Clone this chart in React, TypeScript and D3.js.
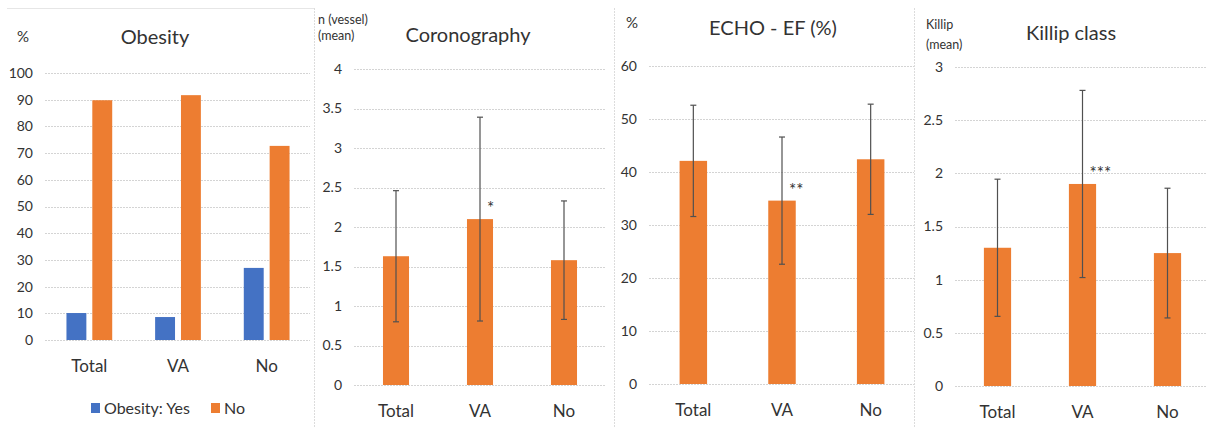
import { useEffect, useRef } from "react";
import * as d3 from "d3";

const categories = ["Total", "VA", "No"];

// Obesity (%)
const obesityYes = [10.1, 8.6, 27.0];
const obesityNo = [89.8, 91.7, 72.7];
const obesityTicks = [0, 10, 20, 30, 40, 50, 60, 70, 80, 90, 100];

// Coronography, n vessels (mean ± SD)
const coroMean = [1.63, 2.1, 1.58];
const coroSd = [0.83, 1.29, 0.75];
const coroTicks = [0, 0.5, 1, 1.5, 2, 2.5, 3, 3.5, 4];
const coroSig = ["", "*", ""];

// ECHO - EF (%)
const echoMean = [42.1, 34.6, 42.4];
const echoSd = [10.5, 12.0, 10.4];
const echoTicks = [0, 10, 20, 30, 40, 50, 60];
const echoSig = ["", "**", ""];

// Killip class (mean ± SD)
const killipMean = [1.3, 1.9, 1.25];
const killipSd = [0.645, 0.88, 0.61];
const killipTicks = [0, 0.5, 1, 1.5, 2, 2.5, 3];
const killipSig = ["", "***", ""];

const BLUE = "#4472c4";
const ORANGE = "#ed7d31";
const TEXT = "#333333";
const FONT = "Lato, 'Open Sans', sans-serif";

function drawFrame(g, x, y, ticks, gridLeft, gridRight) {
  g.append("g")
    .selectAll("line")
    .data(ticks)
    .join("line")
      .attr("x1", gridLeft)
      .attr("x2", gridRight)
      .attr("y1", d => Math.round(y(d)) + 0.5)
      .attr("y2", d => Math.round(y(d)) + 0.5)
      .attr("stroke", "#d4d4d4")
      .attr("stroke-dasharray", "2,1");

  const ya = g.append("g")
    .attr("transform", `translate(${gridLeft},0)`)
    .call(d3.axisLeft(y).tickValues(ticks).tickSize(0).tickPadding(12).tickFormat(d3.format("~g")));
  ya.select(".domain").remove();
  ya.attr("font-family", FONT).attr("font-size", 14);
  ya.selectAll("text").attr("fill", TEXT);

  const xa = g.append("g")
    .attr("transform", `translate(0,${y(0)})`)
    .call(d3.axisBottom(x).tickSize(0).tickPadding(20));
  xa.select(".domain").remove();
  xa.attr("font-family", FONT).attr("font-size", 17);
  xa.selectAll("text").attr("fill", TEXT);
}

function drawErrorPanel(svg, opts) {
  const { left, right, bottom, top, max, ticks, mean, sd, sig, pad, gridRight } = opts;
  const g = svg.append("g");
  const x = d3.scaleBand().domain(categories).range([left, right]).paddingInner(pad).paddingOuter(pad / 2);
  const y = d3.scaleLinear().domain([0, max]).range([bottom, top]);
  drawFrame(g, x, y, ticks, left, gridRight);

  g.append("g")
    .selectAll("rect")
    .data(categories)
    .join("rect")
      .attr("x", d => x(d))
      .attr("y", (d, i) => y(mean[i]))
      .attr("width", x.bandwidth())
      .attr("height", (d, i) => y(0) - y(mean[i]))
      .attr("fill", ORANGE);

  const eb = g.append("g").attr("stroke", "#505050").attr("stroke-width", 1.2);
  categories.forEach((c, i) => {
    const cx = x(c) + x.bandwidth() / 2;
    const y1 = y(mean[i] - sd[i]);
    const y2 = y(mean[i] + sd[i]);
    eb.append("line").attr("x1", cx).attr("x2", cx).attr("y1", y1).attr("y2", y2);
    eb.append("line").attr("x1", cx - 3).attr("x2", cx + 3).attr("y1", y1).attr("y2", y1);
    eb.append("line").attr("x1", cx - 3).attr("x2", cx + 3).attr("y1", y2).attr("y2", y2);
  });

  g.append("g")
    .selectAll("text")
    .data(categories)
    .join("text")
      .attr("x", d => x(d) + x.bandwidth() / 2 + 7)
      .attr("y", (d, i) => y(mean[i]) - 5)
      .attr("font-family", FONT)
      .attr("font-size", 17)
      .attr("fill", TEXT)
      .text((d, i) => sig[i]);
  return g;
}

function label(svg, x, y, text, size, anchor = "middle") {
  svg.append("text")
    .attr("x", x)
    .attr("y", y)
    .attr("dy", "0.35em")
    .attr("text-anchor", anchor)
    .attr("font-family", FONT)
    .attr("font-size", size)
    .attr("fill", TEXT)
    .text(text);
}

export default function App() {
  const ref = useRef(null);

  useEffect(() => {
    const svg = d3.select(ref.current);
    svg.selectAll("*").remove();

    // panel frames
    svg.append("line").attr("x1", 7).attr("x2", 314).attr("y1", 8.5).attr("y2", 8.5).attr("stroke", "#e6e6e6");
    [314.5, 614.5, 914.5].forEach(px => {
      svg.append("line").attr("x1", px).attr("x2", px).attr("y1", 8).attr("y2", 427)
        .attr("stroke", "#dcdcdc").attr("stroke-dasharray", "2,1");
    });

    // Panel 1: Obesity
    const g1 = svg.append("g");
    const x1 = d3.scaleBand().domain(categories).range([45, 311]);
    const xs = d3.scaleBand().domain(["yes", "no"]).range([0, x1.bandwidth()]).paddingInner(0.23).paddingOuter(0.83);
    const y1 = d3.scaleLinear().domain([0, 100]).range([340, 73]);
    drawFrame(g1, x1, y1, obesityTicks, 45, 310);
    const series = [
      { key: "yes", values: obesityYes, color: BLUE },
      { key: "no", values: obesityNo, color: ORANGE },
    ];
    series.forEach(s => {
      g1.append("g")
        .selectAll("rect")
        .data(categories)
        .join("rect")
          .attr("x", d => x1(d) + xs(s.key))
          .attr("y", (d, i) => y1(s.values[i]))
          .attr("width", xs.bandwidth())
          .attr("height", (d, i) => y1(0) - y1(s.values[i]))
          .attr("fill", s.color);
    });
    label(svg, 155, 37, "Obesity", 20);
    label(svg, 23, 37, "%", 15);
    // legend
    svg.append("rect").attr("x", 91).attr("y", 403).attr("width", 9).attr("height", 10).attr("fill", BLUE);
    label(svg, 104, 408, "Obesity: Yes", 16, "start");
    svg.append("rect").attr("x", 211).attr("y", 403).attr("width", 9).attr("height", 10).attr("fill", ORANGE);
    label(svg, 224, 408, "No", 16, "start");

    // Panel 2: Coronography
    drawErrorPanel(svg, {
      left: 354, right: 606, bottom: 385, top: 69, max: 4, ticks: coroTicks,
      mean: coroMean, sd: coroSd, sig: coroSig, pad: 0.69, gridRight: 605,
    });
    label(svg, 468, 35, "Coronography", 20);
    label(svg, 318, 20, "n (vessel)", 12.5, "start");
    label(svg, 318, 36, "(mean)", 12.5, "start");

    // Panel 3: ECHO - EF
    drawErrorPanel(svg, {
      left: 649, right: 915, bottom: 384, top: 66, max: 60, ticks: echoTicks,
      mean: echoMean, sd: echoSd, sig: echoSig, pad: 0.69, gridRight: 914,
    });
    label(svg, 773, 28, "ECHO - EF (%)", 20);
    label(svg, 632, 23, "%", 15);

    // Panel 4: Killip class
    drawErrorPanel(svg, {
      left: 955, right: 1210, bottom: 386, top: 67, max: 3, ticks: killipTicks,
      mean: killipMean, sd: killipSd, sig: killipSig, pad: 0.68, gridRight: 1206,
    });
    label(svg, 1071, 33, "Killip class", 20);
    label(svg, 926, 25, "Killip", 12.5, "start");
    label(svg, 926, 45, "(mean)", 12.5, "start");
  }, []);

  return (
    <svg
      ref={ref}
      width={1209}
      height={427}
      style={{ position: "absolute", left: 0, top: 0, background: "#fff" }}
    />
  );
}
